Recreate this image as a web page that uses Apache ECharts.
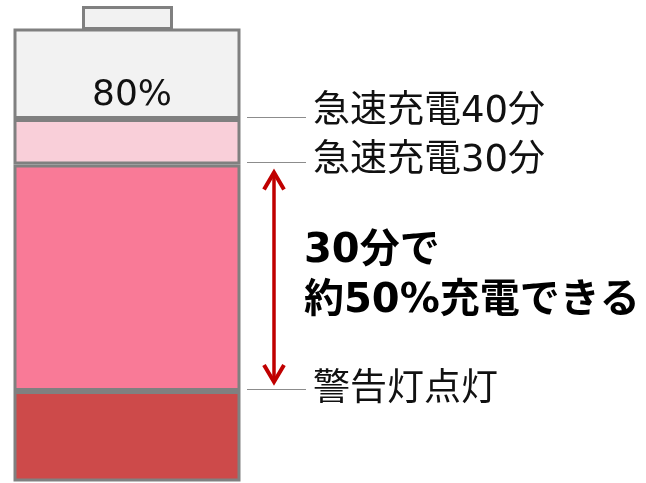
<!DOCTYPE html>
<html><head><meta charset="utf-8">
<script src="https://cdn.jsdelivr.net/npm/echarts@6/dist/echarts.min.js"></script>
<style>html,body{margin:0;padding:0;background:#fff}#c{width:646px;height:483px}</style>
</head><body><div id="c"></div>
<script>
// Battery segments (percent of capacity, stacked bottom→top)
const categories = ['battery'];
const segmentNames = ['警告灯点灯', '急速充電30分', '急速充電40分', '残り'];
const segmentValues = [20, 50, 10, 20];
const segmentColors = ['#cd4a4a', '#f97a97', '#f9cfd9', '#f2f2f2'];
// Marker levels (cumulative %) and their labels
const markerLevels = [80, 70, 20];
const markerLabels = ['急速充電40分', '急速充電30分', '警告灯点灯'];
const topLabel = '80%';
const noteLines = ['30分で', '約50%充電できる'];
const arrowFrom = 70, arrowTo = 20;

const chart = echarts.init(document.getElementById('c'), null, {renderer: 'canvas'});
const FONT = '"DejaVu Sans", "Noto Sans CJK JP", sans-serif';

chart.setOption({
  animation: false,
  grid: {left: 13.5, top: 28.5, width: 227, bottom: 1.5, containLabel: false},
  xAxis: {type: 'category', data: categories, show: false},
  yAxis: {type: 'value', min: 0, max: 100, show: false},
  series: segmentValues.map((v, i) => ({
    name: segmentNames[i],
    type: 'bar',
    stack: 'b',
    barWidth: '100%',
    data: [v],
    itemStyle: {color: segmentColors[i], borderColor: '#808080', borderWidth: 3},
    z: 3
  }))
});

function drawDecor() {
  const yPx = v => chart.convertToPixel({yAxisIndex: 0}, v);
  const xL = 13.5, xR = 240.5;
  const yTop = yPx(100);
  const els = [];
  // cap
  els.push({type: 'rect', shape: {x: 83.5, y: 7.5, width: 88, height: yTop - 7.5},
    style: {fill: '#f2f2f2', stroke: '#808080', lineWidth: 3}, z: 1});
  // leader lines + labels
  const labelDy = [-5, -1, 1];
  markerLevels.forEach((lv, i) => {
    const y = Math.round(yPx(lv)) - 1.5;
    els.push({type: 'line', shape: {x1: 247, y1: y, x2: 306, y2: y},
      style: {stroke: '#8c8c8c', lineWidth: 1.2}, z: 5});
    els.push({type: 'text', x: 313, y: y + labelDy[i],
      style: {text: markerLabels[i], font: '37px ' + FONT, fill: '#111', align: 'left', verticalAlign: 'middle'}, z: 5});
  });
  // 80% label inside top segment
  els.push({type: 'text', x: (xL + xR) / 2 + 5, y: yPx(80) - 23,
    style: {text: topLabel, font: '36px ' + FONT, fill: '#111', align: 'center', verticalAlign: 'middle'}, z: 5});
  // arrow
  const ax = 274, ay1 = yPx(arrowFrom) + 6, ay2 = yPx(arrowTo) - 7;
  const red = '#c00000';
  els.push({type: 'line', shape: {x1: ax, y1: ay1 + 2, x2: ax, y2: ay2 - 2}, style: {stroke: red, lineWidth: 3.5}, z: 5});
  els.push({type: 'polyline', shape: {points: [[ax - 10, ay1 + 19], [ax, ay1 + 2], [ax + 10, ay1 + 19]]},
    style: {stroke: red, lineWidth: 4, fill: null}, z: 5});
  els.push({type: 'polyline', shape: {points: [[ax - 10, ay2 - 19], [ax, ay2 - 2], [ax + 10, ay2 - 19]]},
    style: {stroke: red, lineWidth: 4, fill: null}, z: 5});
  // note
  const noteY = [252, 302];
  noteLines.forEach((t, i) => {
    els.push({type: 'text', x: 304, y: noteY[i],
      style: {text: t, font: 'bold 40px ' + FONT, fill: '#000', align: 'left', verticalAlign: 'middle'}, z: 5});
  });
  chart.setOption({graphic: {elements: els}});
}
drawDecor();
</script></body></html>
